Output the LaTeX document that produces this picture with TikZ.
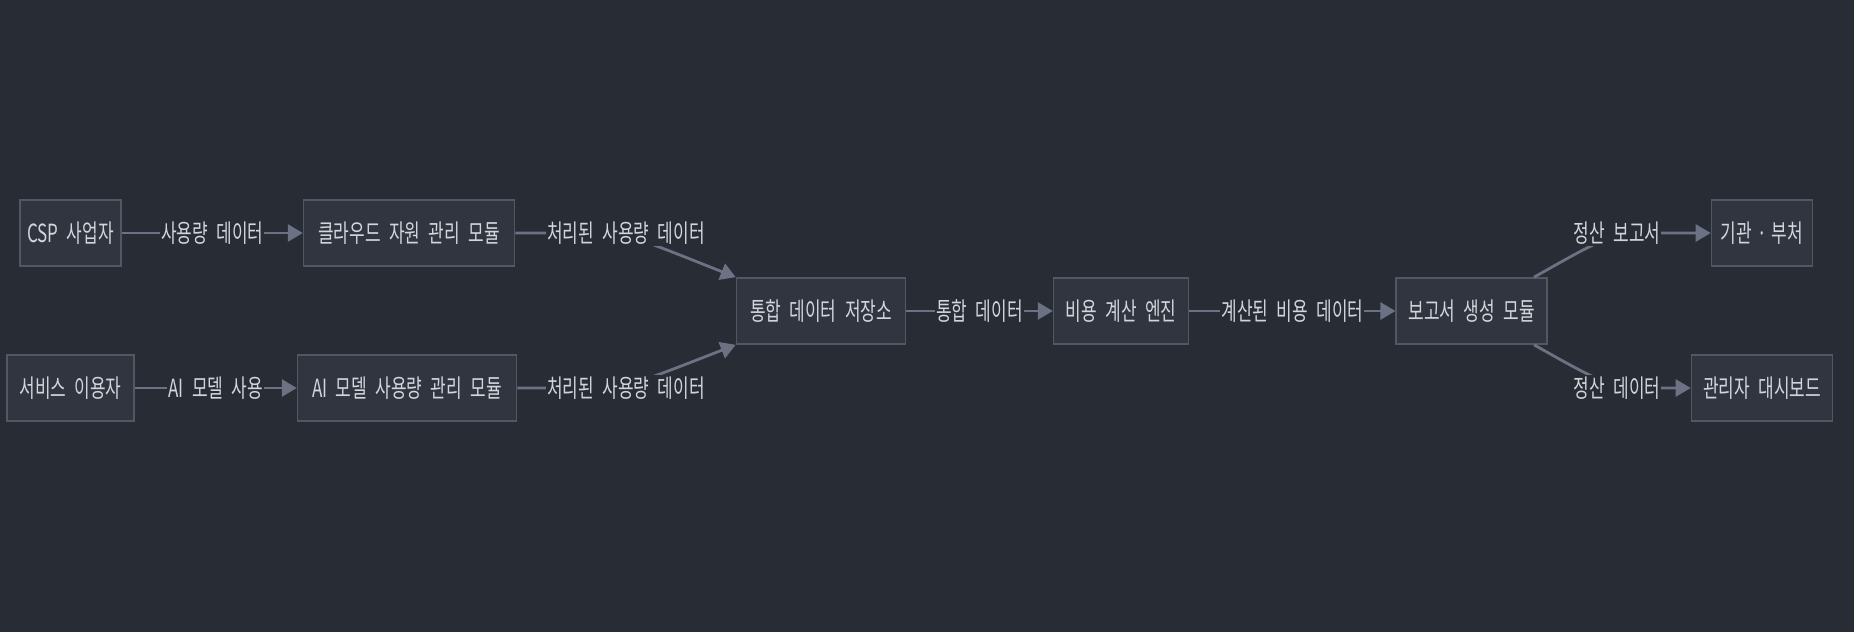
\documentclass[tikz,border=0pt]{standalone}
\usepackage{fontspec}
\setmainfont{Noto Sans CJK KR}[FakeStretch=0.68,WordSpace=2.2]
\usepackage{xcolor}
\usetikzlibrary{arrows.meta, positioning}
\definecolor{flowBg}{RGB}{40,44,52}
\definecolor{flowNode}{RGB}{49,53,63}
\definecolor{flowBorder}{RGB}{82,87,100}
\definecolor{flowEdge}{RGB}{108,114,132}
\definecolor{flowText}{RGB}{210,213,220}

\begin{document}
\begin{tikzpicture}[x=1pt, y=-1pt, node distance=180pt]
                \tikzstyle{box} = [rectangle, draw=flowBorder, line width=1.6pt, fill=flowNode, minimum height=66pt, inner xsep=4pt, text=flowText, font=\fontsize{25pt}{28pt}\selectfont]
                \tikzstyle{lbl} = [fill=flowBg, inner xsep=1pt, inner ysep=2pt, text=flowText, font=\fontsize{25pt}{28pt}\selectfont]
                \tikzstyle{arrow} = [-{Triangle[length=15pt, width=17pt]}, line width=2.8pt, flowEdge]

                \fill[flowBg] (0,0) rectangle (1854,632);
                \useasboundingbox (0,0) rectangle (1854,632);

                \node[box, minimum width=101pt] (csp) at (70.5,233) {CSP 사업자};
                \node[box, minimum width=211pt, right=181pt of csp] (cloud) {클라우드 자원 관리 모듈};
                \node[box, minimum width=127pt] (user) at (70.5,388) {서비스 이용자};
                \node[box, minimum width=219pt, right=162pt of user] (aimod) {AI 모델 사용량 관리 모듈};
                \node[box, minimum width=169pt] (store) at (821,311) {통합 데이터 저장소};
                \node[box, minimum width=135pt, right=146.5pt of store] (cost) {비용 계산 엔진};
                \node[box, minimum width=151pt, right=206pt of cost] (report) {보고서 생성 모듈};
                \node[box, minimum width=101pt] (org) at (1762,233) {기관\hspace{5pt}·\hspace{5pt}부처};
                \node[box, minimum width=141pt] (board) at (1762,388) {관리자 대시보드};

                \draw[arrow] (csp) -- node[lbl] {사용량 데이터} (cloud);
                \draw[arrow] (user) -- node[lbl] {AI 모델 사용} (aimod);
                \draw[arrow] (store) -- node[lbl] {통합 데이터} (cost);
                \draw[arrow] (cost) -- node[lbl] {계산된 비용 데이터} (report);
                \draw[arrow] (cloud.east) -- (590,233) .. controls (625,233) .. (store.north west);
                \draw[arrow] (aimod.east) -- (590,388) .. controls (625,388) .. (store.south west);
                \draw[arrow] ([xshift=-14pt]report.north east) .. controls (1600,240) and (1610,233) .. (1650,233) -- (org);
                \draw[arrow] ([xshift=-14pt]report.south east) .. controls (1600,382) and (1610,388) .. (1650,388) -- (board);

                \node[lbl] (proc1) at (626,233) {처리된 사용량 데이터};
                \node[lbl] (proc2) at (626,388) {처리된 사용량 데이터};
                \node[lbl] (settle1) at (1617,233) {정산 보고서};
                \node[lbl] (settle2) at (1617,388) {정산 데이터};
            \end{tikzpicture}
\end{document}
